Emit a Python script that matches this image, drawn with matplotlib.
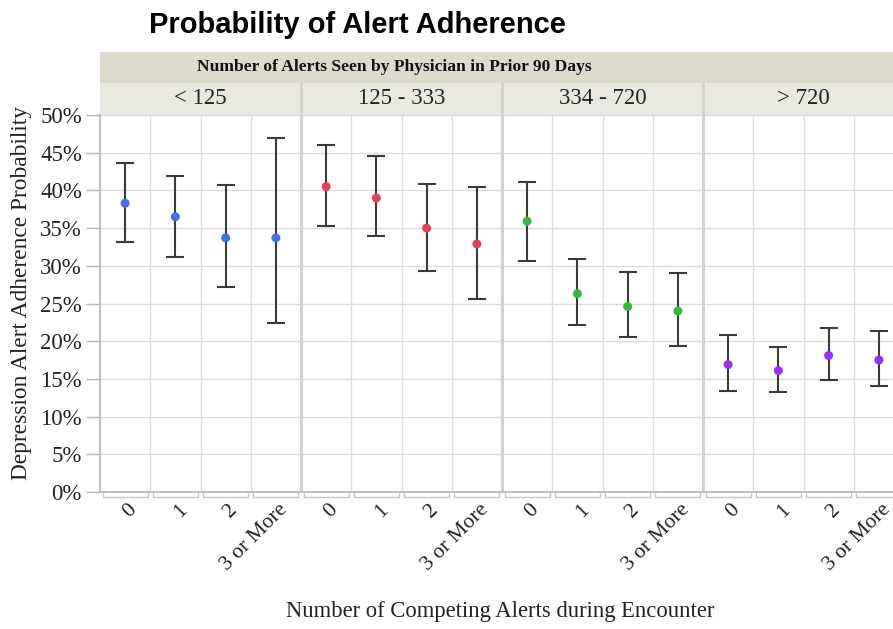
import matplotlib
matplotlib.use("Agg")
import matplotlib.pyplot as plt
from matplotlib.patches import Rectangle
from matplotlib.transforms import ScaledTranslation
import numpy as np

# ---- data ----
groups = ["< 125", "125 - 333", "334 - 720", "> 720"]
categories = ["0", "1", "2", "3 or More"]
estimate = [
    [38.3, 36.5, 33.7, 33.7],
    [40.5, 39.0, 35.0, 32.9],
    [35.9, 26.3, 24.6, 24.0],
    [16.9, 16.1, 18.1, 17.5],
]
upper = [
    [43.6, 41.9, 40.7, 46.9],
    [46.0, 44.6, 40.8, 40.4],
    [41.1, 30.9, 29.2, 29.1],
    [20.8, 19.2, 21.7, 21.3],
]
lower = [
    [33.1, 31.2, 27.2, 22.4],
    [35.3, 33.9, 29.3, 25.6],
    [30.6, 22.1, 20.5, 19.4],
    [13.4, 13.2, 14.9, 14.1],
]
colors = ["#3f72e6", "#e2405a", "#36b83a", "#9a2ef0"]
yticks = [0, 5, 10, 15, 20, 25, 30, 35, 40, 45, 50]

title = "Probability of Alert Adherence"
header = "Number of Alerts Seen by Physician in Prior 90 Days"
ylabel = "Depression Alert Adherence Probability"
xlabel = "Number of Competing Alerts during Encounter"

# ---- figure ----
W, H = 893, 629
fig = plt.figure(figsize=(W / 100, H / 100), dpi=100)

serif = ["Liberation Serif", "DejaVu Serif"]
sans = ["Liberation Sans", "DejaVu Sans"]

ax_left, ax_right = 100, 904
ax_top, ax_bot = 115, 492
ax = fig.add_axes([ax_left / W, 1 - ax_bot / H, (ax_right - ax_left) / W, (ax_bot - ax_top) / H])

n_g = len(groups)
n_c = len(categories)
ax.set_xlim(-0.5, n_g * n_c - 0.5)
ax.set_ylim(0, 50)

grid_c = "#dcdcdc"
for y in yticks:
    ax.axhline(y, color=grid_c, lw=1.0, zorder=0)
for k in range(1, n_g * n_c):
    sep = (k % n_c == 0)
    ax.axvline(k - 0.5, color="#d2d2d2" if sep else grid_c, lw=2.2 if sep else 1.0, zorder=0)

for g in range(n_g):
    xs = np.arange(n_c) + g * n_c
    est = np.array(estimate[g])
    lo = est - np.array(lower[g])
    hi = np.array(upper[g]) - est
    ax.errorbar(xs, est, yerr=[lo, hi], fmt="none", ecolor="#3a3a3a", elinewidth=1.5,
                capsize=6.5, capthick=1.5, zorder=2)
    ax.scatter(xs, est, s=42, color=colors[g], zorder=3, edgecolors="none")

for s in ["top", "right"]:
    ax.spines[s].set_visible(False)
ax.spines["left"].set_color("#b5b5b5")
ax.spines["bottom"].set_color("#b5b5b5")
ax.spines["left"].set_linewidth(1.2)
ax.spines["bottom"].set_linewidth(1.2)

ax.set_yticks(yticks)
ax.set_yticklabels([f"{v}%" for v in yticks], fontfamily=serif, fontsize=16.5, color="#222222")
ax.tick_params(axis="y", length=10, color="#b5b5b5", width=1.0, pad=3)

ax.set_xticks(np.arange(n_g * n_c))
ax.set_xticklabels(categories * n_g, rotation=45, ha="right", va="top",
                   rotation_mode="anchor", fontfamily=serif, fontsize=15.5, color="#222222")
ax.tick_params(axis="x", length=0, pad=6)
off = ScaledTranslation(2 / 100, 0, fig.dpi_scale_trans)
for lab in ax.get_xticklabels():
    lab.set_transform(lab.get_transform() + off)

# bracket boxes under each category
for k in range(n_g * n_c):
    x0, x1 = k - 0.45, k + 0.45
    ax.plot([x0, x0, x1, x1], [0, -0.7, -0.7, 0], color="#c8c8c8", lw=1.0,
            clip_on=False, transform=ax.transData, zorder=1)

# strips
trans = ax.get_xaxis_transform()
axh = ax_bot - ax_top
s1 = (115 - 82.5) / axh
s2 = (115 - 52) / axh
for g in range(n_g):
    x0 = g * n_c - 0.5
    ax.add_patch(Rectangle((x0, 1.0), n_c, s1, transform=trans, facecolor="#e9e9e1",
                           edgecolor="none", clip_on=False))
    ax.text(x0 + n_c / 2, 1.0 + s1 / 2, groups[g], transform=trans, ha="center", va="center",
            fontfamily=serif, fontsize=16.5, color="#222222")
    if g > 0:
        ax.plot([x0, x0], [1.0, 1.0 + s1], transform=trans, color="#d4d4cc", lw=2.0, clip_on=False)
ax.add_patch(Rectangle((-0.5, 1.0 + s1), n_g * n_c, s2 - s1, transform=trans,
                       facecolor="#dcdbcc", edgecolor="none", clip_on=False))
fig.text(394 / W, 1 - 67 / H, header, ha="center", va="center", fontfamily=serif,
         fontsize=12.6, fontweight="bold", color="#111111")

fig.text(357 / W, 1 - 25 / H, title, ha="center", va="center", fontfamily=sans,
         fontsize=21, fontweight="bold", color="#000000")
fig.text(22 / W, 1 - 293 / H, ylabel, ha="center", va="center", rotation=90,
         fontfamily=serif, fontsize=16.8, color="#222222")
fig.text(500 / W, 1 - 612 / H, xlabel, ha="center", va="center", fontfamily=serif,
         fontsize=16.3, color="#222222")

fig.savefig("out.png", dpi=100)
